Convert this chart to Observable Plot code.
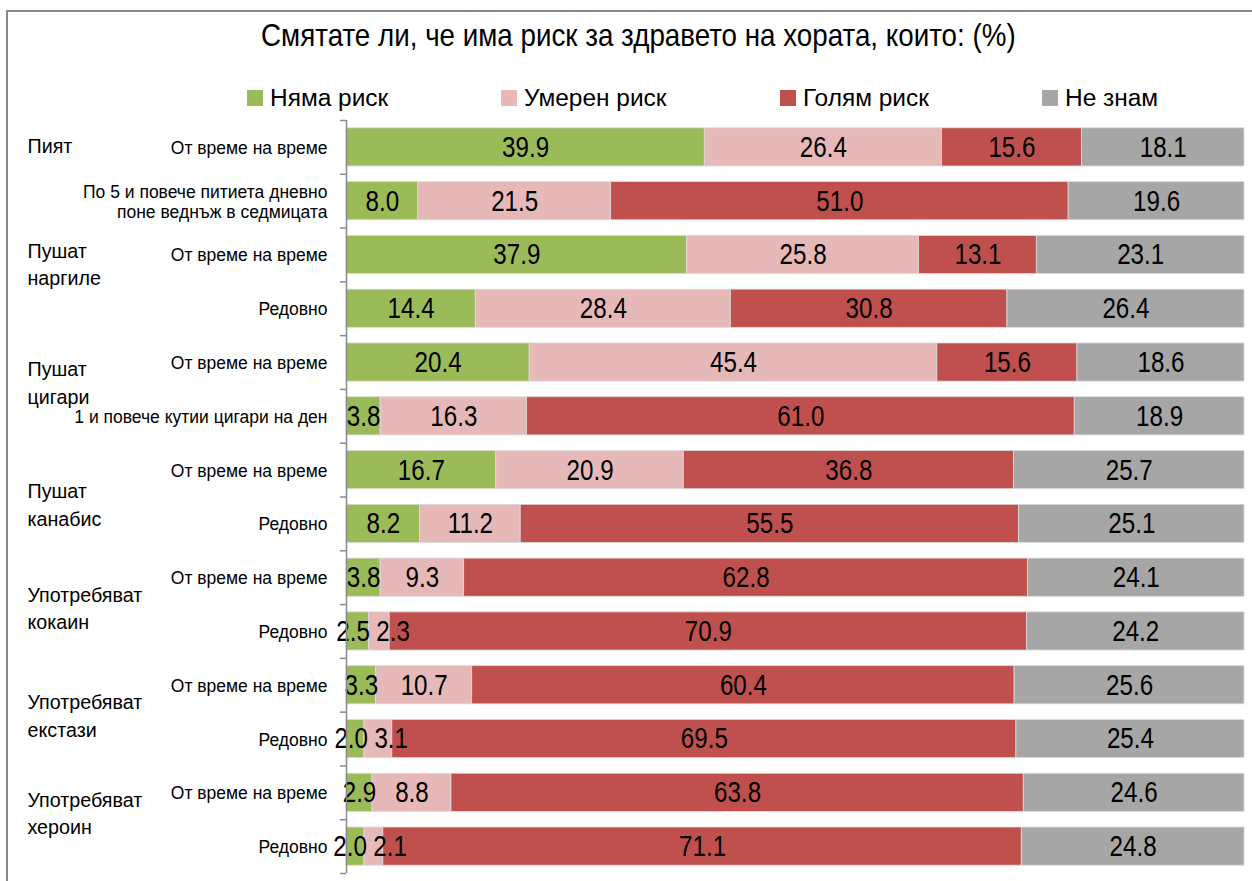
<!DOCTYPE html>
<html>
<head>
<meta charset="utf-8">
<script src="https://cdn.jsdelivr.net/npm/d3@7"></script>
<script src="https://cdn.jsdelivr.net/npm/@observablehq/plot@0.6"></script>
<style>
  html, body { margin: 0; padding: 0; background: #fff; overflow: hidden; }
  #page { position: relative; width: 1252px; height: 881px; font-family: "Liberation Sans", Arial, sans-serif; color: #000; }
  #frame { position: absolute; left: 6px; top: 10px; width: 1300px; height: 900px; border: 2px solid #878787; box-sizing: border-box; }
  #title { position: absolute; left: 0; top: 20px; width: 1277px; text-align: center; font-size: 31.3px; line-height: 1; white-space: nowrap; }
  #title span { display: inline-block; transform: scaleX(0.887); transform-origin: center; }
  .sw { position: absolute; width: 16px; height: 16px; top: 90px; }
  .lt { position: absolute; top: 86px; font-size: 24.7px; line-height: 1; white-space: nowrap; transform: scaleX(0.99); transform-origin: left; }
  #chart { position: absolute; left: 0; top: 110px; }
  #chart svg { display: block; }
</style>
</head>
<body>
<div id="page">
  <div id="frame"></div>
  <div id="title"><span></span></div>
  <div id="legend"></div>
  <div id="chart"></div>
</div>
<script>
const title = "Смятате ли, че има риск за здравето на хората, които: (%)";
const seriesNames = ["Няма риск", "Умерен риск", "Голям риск", "Не знам"];
const seriesColors = ["#9BBB59", "#E6B9B8", "#C0504D", "#A6A6A6"];

const rowLabels = [
  "От време на време",
  "По 5 и повече питиета дневно\nпоне веднъж в седмицата",
  "От време на време",
  "Редовно",
  "От време на време",
  "1 и повече кутии цигари на ден",
  "От време на време",
  "Редовно",
  "От време на време",
  "Редовно",
  "От време на време",
  "Редовно",
  "От време на време",
  "Редовно"
];
const groupNames = ["Пият", "Пушат\nнаргиле", "Пушат\nцигари", "Пушат\nканабис", "Употребяват\nкокаин", "Употребяват\nекстази", "Употребяват\nхероин"];
const groupFirstRow = [0, 2, 4, 6, 8, 10, 12];

const noRisk   = [39.9, 8.0, 37.9, 14.4, 20.4, 3.8, 16.7, 8.2, 3.8, 2.5, 3.3, 2.0, 2.9, 2.0];
const moderate = [26.4, 21.5, 25.8, 28.4, 45.4, 16.3, 20.9, 11.2, 9.3, 2.3, 10.7, 3.1, 8.8, 2.1];
const high     = [15.6, 51.0, 13.1, 30.8, 15.6, 61.0, 36.8, 55.5, 62.8, 70.9, 60.4, 69.5, 63.8, 71.1];
const dontKnow = [18.1, 19.6, 23.1, 26.4, 18.6, 18.9, 25.7, 25.1, 24.1, 24.2, 25.6, 25.4, 24.6, 24.8];
const seriesValues = [noRisk, moderate, high, dontKnow];

// layout
const W = 1252, H = 771, mL = 346, mR = 8, mT = 10, mB = 8;
const step = (H - mT - mB) / rowLabels.length;
const groupDy = [-step / 2 - 3, -19, -8, 6, 2, 2, -8]; // group label offset vs group center
const font = '"Liberation Sans", Arial, sans-serif';

// title
document.querySelector("#title span").textContent = title;

// legend built from the series arrays
const legend = document.getElementById("legend");
let lx = 247;
seriesNames.forEach((s, i) => {
  const sw = document.createElement("div"); sw.className = "sw";
  sw.style.background = seriesColors[i]; sw.style.left = lx + "px";
  legend.appendChild(sw);
  const tx = document.createElement("span"); tx.className = "lt"; tx.textContent = s;
  tx.style.left = (lx + 23) + "px";
  legend.appendChild(tx);
  const w = tx.getBoundingClientRect().width;
  lx += 23 + w + 113;
});

const rows = rowLabels.map((label, i) => ({row: i, label}));
const data = [];
rows.forEach(r => seriesValues.forEach((vals, s) => data.push({row: r.row, series: seriesNames[s], value: vals[r.row]})));

// label positions: segment midpoints (normalized), nudged apart where they would collide
const plotW = W - mL - mR;
const minSep = 40 / plotW;
const labels = [];
rows.forEach(r => {
  const vals = seriesValues.map(v => v[r.row]);
  const total = d3.sum(vals);
  let c = 0;
  const mids = vals.map(v => { const m = (c + v / 2) / total; c += v; return m; });
  for (let i = 1; i < mids.length; i++) {
    const gap = mids[i] - mids[i - 1];
    if (gap < minSep) { const d = minSep - gap; mids[i - 1] -= d / 4; mids[i] += 3 * d / 4; }
  }
  vals.forEach((v, i) => labels.push({row: r.row, x: mids[i], text: v.toFixed(1)}));
});

const groupMarks = groupNames.map((g, gi) =>
  Plot.text([g], {
    y: () => groupFirstRow[gi], text: d => d, frameAnchor: "left", textAnchor: "start",
    dx: 27 - mL, dy: step / 2 + groupDy[gi], lineHeight: 1.4, fontSize: 19.7, fill: "black"
  })
);

const chart = Plot.plot({
  width: W, height: H, marginLeft: mL, marginRight: mR, marginTop: mT, marginBottom: mB,
  x: {axis: null, domain: [0, 1]},
  y: {axis: null, domain: rows.map(r => r.row), paddingInner: 0.29, paddingOuter: 0.145, align: 0.5, round: false},
  color: {domain: seriesNames, range: seriesColors},
  style: {fontFamily: font, fontSize: "18px", color: "black", background: "transparent"},
  marks: [
    Plot.barX(data, Plot.stackX({x: "value", y: "row", fill: "series", offset: "normalize", stroke: "#dcdcdc", strokeWidth: 0.8})),
    Plot.text(labels, {x: "x", y: "row", text: "text", fontSize: 29.5, fill: "black"}),
    Plot.ruleX([0], {stroke: "#8a8a8a", strokeWidth: 1.5}),
    Plot.ruleY(rows, {y: "row", x1: 0, x2: 0, insetLeft: -6, dy: -step / 2, stroke: "#8a8a8a", strokeWidth: 1.5}),
    Plot.ruleY(rows.slice(-1), {y: "row", x1: 0, x2: 0, insetLeft: -6, dy: step / 2, stroke: "#8a8a8a", strokeWidth: 1.5}),
    Plot.text(rows, {y: "row", text: "label", frameAnchor: "left", textAnchor: "end", dx: -19, lineHeight: 1.16, fontSize: 17.5, fill: "black"}),
    ...groupMarks
  ]
});
// the value labels use a narrow face: compress them horizontally about their anchor
const valueGroup = chart.querySelector('g[aria-label="text"]');
valueGroup.querySelectorAll("text").forEach(t => {
  const tr = t.getAttribute("transform") || "";
  t.setAttribute("transform", (tr + " scale(0.82,1)").trim());
});
document.getElementById("chart").appendChild(chart);
</script>
</body>
</html>
